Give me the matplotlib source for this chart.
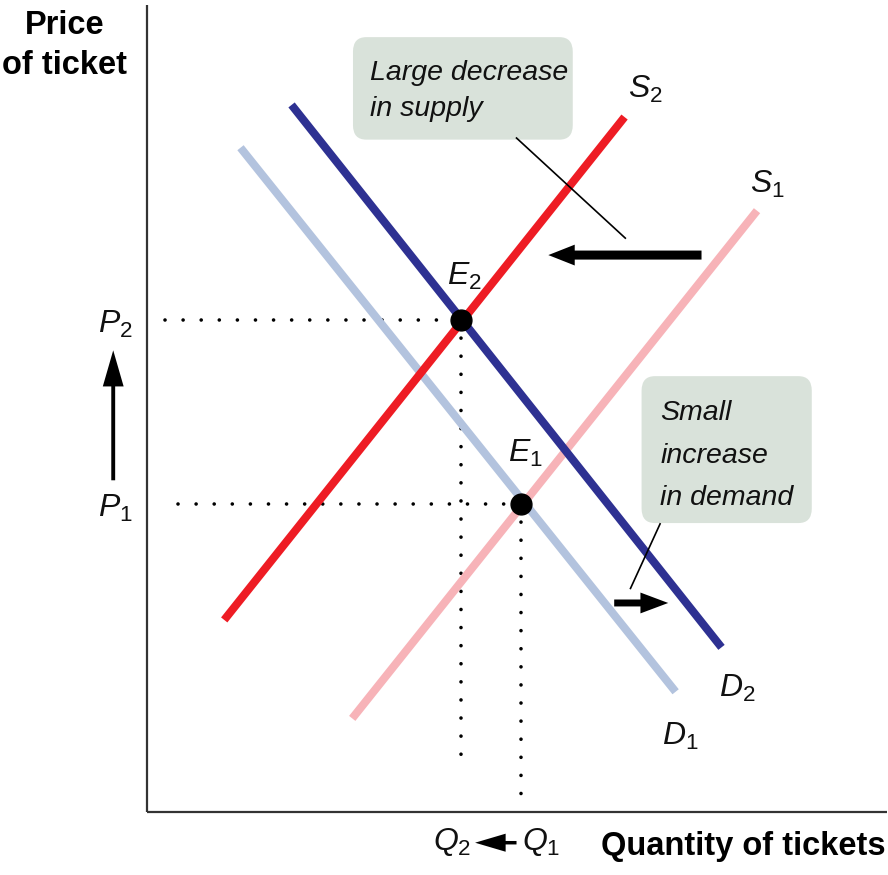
import matplotlib
matplotlib.use("Agg")
import matplotlib.pyplot as plt
from matplotlib.patches import FancyBboxPatch, FancyArrowPatch, ArrowStyle

# ── Styling ──────────────────────────────────────────────────────────────────
NAVY = "#2e3192"
LIGHT_BLUE = "#b3c3de"
RED = "#ee1c24"
PINK = "#f7b3b8"
BOX = "#d9e2da"
AXIS = "#333333"
FONT = "Liberation Sans"

plt.rcParams.update({
    "font.family": FONT,
    "mathtext.fontset": "custom",
    "mathtext.it": f"{FONT}:italic",
    "mathtext.rm": FONT,
})

# ── Data (quantity, price in chart units, origin at the axes corner) ─────────
d1_q = [1.26, 7.14]
d1_p = [8.23, 1.49]
d2_q = [1.95, 7.76]
d2_p = [8.76, 2.04]
s1_q = [2.77, 8.24]
s1_p = [1.16, 7.45]
s2_q = [1.04, 6.45]
s2_p = [2.38, 8.61]

eq_names = ["E1", "E2"]
eq_q = [5.05, 4.24]
eq_p = [3.82, 6.10]
guide_start_q = [0.42, 0.24]   # where the dotted price guides begin
guide_end_p = [0.21, 0.58]     # where the dotted quantity guides end

curve_labels = [r"$D_1$", r"$D_2$", r"$S_1$", r"$S_2$", r"$E_1$", r"$E_2$",
                r"$P_1$", r"$P_2$", r"$Q_2$", r"$Q_1$"]
label_q = [6.96, 7.72, 8.15, 6.50, 4.88, 4.05, -0.66, -0.66, 3.86, 5.07]
label_p = [0.83, 1.43, 7.67, 8.85, 4.34, 6.53, 3.66, 5.94, -0.47, -0.47]

supply_note = ["Large decrease", "in supply"]
demand_note = ["Small", "increase", "in demand"]

X_RANGE = (-1.99, 10.01)
Y_RANGE = (-0.78, 10.06)

fig = plt.figure(figsize=(8.88, 8.75), dpi=100)
ax = fig.add_axes([0, 0, 1, 1])
ax.set_xlim(*X_RANGE)
ax.set_ylim(*Y_RANGE)
ax.axis("off")

# axes
ax.plot([0, 0], [0, 10.0], color=AXIS, lw=1.6, solid_capstyle="butt")
ax.plot([0, 10.0], [0, 0], color=AXIS, lw=1.6, solid_capstyle="butt")

# dotted guides
dots = dict(color="black", lw=2.6, dash_capstyle="round",
            linestyle=(0, (0.01, 5.0)))
for q, p, q0, p0 in zip(eq_q, eq_p, guide_start_q, guide_end_p):
    ax.plot([q0, q], [p, p], **dots)
    ax.plot([q, q], [p, p0], **dots)

# curves
curve = dict(lw=5.8, solid_capstyle="butt")
ax.plot(s1_q, s1_p, color=PINK, **curve)
ax.plot(d1_q, d1_p, color=LIGHT_BLUE, **curve)
ax.plot(s2_q, s2_p, color=RED, **curve)
ax.plot(d2_q, d2_p, color=NAVY, **curve)

# equilibrium points
ax.plot(eq_q, eq_p, "o", color="black", ms=15, zorder=5)

# labels
for txt, q, p in zip(curve_labels, label_q, label_p):
    ax.text(q, p, txt, fontsize=23, ha="left", va="baseline", color="#111")

# axis titles
ax.text(-1.12, 9.93, "Price\nof ticket", fontsize=23.5, fontweight="bold",
        ha="center", va="top", linespacing=1.35)
ax.text(9.98, -0.53, "Quantity of tickets", fontsize=23.5, fontweight="bold",
        ha="right", va="baseline")

# callout boxes
ax.add_patch(FancyBboxPatch((2.90, 8.45), 2.73, 1.03,
                            boxstyle="round,pad=0.12,rounding_size=0.18",
                            fc=BOX, ec="none", zorder=1))
ax.add_patch(FancyBboxPatch((6.80, 3.70), 2.06, 1.58,
                            boxstyle="round,pad=0.12,rounding_size=0.18",
                            fc=BOX, ec="none", zorder=1))
for txt, p in zip(supply_note, [9.07, 8.62]):
    ax.text(3.01, p, txt, fontsize=20.5, style="italic",
            va="baseline", color="#111", zorder=2)
for txt, p in zip(demand_note, [4.86, 4.32, 3.80]):
    ax.text(6.93, p, txt, fontsize=20.5, style="italic",
            va="baseline", color="#111", zorder=2)

# leader lines
ax.plot([4.99, 6.46], [8.35, 7.11], color="black", lw=1.2)
ax.plot([6.93, 6.53], [3.57, 2.77], color="black", lw=1.2)

# shift arrows
def arrow(tail, head, tw, hw, hl):
    style = ArrowStyle("simple", head_length=hl, head_width=hw, tail_width=tw)
    ax.add_patch(FancyArrowPatch(tail, head, arrowstyle=style, mutation_scale=1,
                                 color="black", lw=0, shrinkA=0, shrinkB=0,
                                 zorder=6))

arrow((7.49, 6.90), (5.42, 6.90), 6.5, 15, 19)
arrow((6.31, 2.59), (7.04, 2.59), 5.0, 15, 20)
arrow((-0.46, 4.11), (-0.46, 5.72), 2.8, 15, 26)
arrow((4.99, -0.38), (4.43, -0.38), 2.5, 13, 22)

fig.savefig("out.png", dpi=100)
